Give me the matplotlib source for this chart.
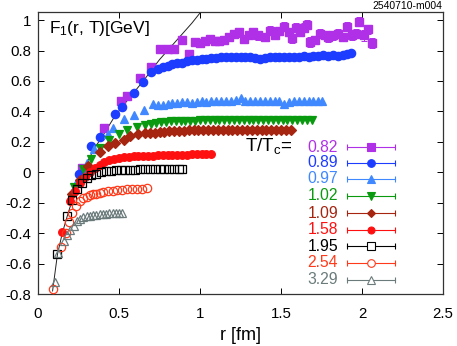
import numpy as np
import matplotlib
matplotlib.use("Agg")
import matplotlib.pyplot as plt

plt.rcParams['font.family'] = ['Liberation Sans', 'DejaVu Sans']
plt.rcParams['mathtext.default'] = 'regular'

# T/Tc = 0.82
r_082 = [0.27, 0.41, 0.51, 0.55, 0.63, 0.70, 0.75, 0.80, 0.84, 0.89, 0.93, 0.97, 1.00, 1.03, 1.06,
         1.09, 1.12, 1.15, 1.18, 1.21, 1.24, 1.27, 1.30, 1.33, 1.36, 1.40, 1.43, 1.46, 1.49, 1.52,
         1.55, 1.57, 1.59, 1.62, 1.64, 1.66, 1.68, 1.71, 1.74, 1.77, 1.79, 1.82, 1.85, 1.88, 1.91,
         1.94, 1.96, 1.98, 2.01, 2.04, 2.06]
f_082 = [0.03, 0.29, 0.47, 0.50, 0.62, 0.69, 0.81, 0.81, 0.81, 0.87, 0.78, 0.855, 0.85, 0.86, 0.875,
         0.86, 0.86, 0.87, 0.89, 0.91, 0.92, 0.875, 0.90, 0.92, 0.90, 0.89, 0.93, 0.90, 0.93, 0.955,
         0.92, 0.88, 0.95, 0.92, 0.95, 0.97, 0.855, 0.87, 0.91, 0.90, 0.89, 0.90, 0.91, 0.89, 0.955,
         0.90, 0.91, 0.99, 0.90, 0.94, 0.85]
e_082 = [0.005, 0.005, 0.005, 0.005, 0.005, 0.005, 0.01, 0.01, 0.01, 0.01, 0.01, 0.01, 0.01, 0.015, 0.015,
         0.02, 0.015, 0.02, 0.02, 0.02, 0.03, 0.02, 0.02, 0.025, 0.03, 0.02, 0.03, 0.02, 0.025, 0.03,
         0.02, 0.03, 0.03, 0.025, 0.03, 0.03, 0.035, 0.02, 0.03, 0.025, 0.035, 0.03, 0.03, 0.025, 0.03,
         0.03, 0.03, 0.03, 0.035, 0.03, 0.035]

# T/Tc = 0.89
r_089 = [0.25, 0.33, 0.38, 0.475, 0.52, 0.59, 0.65, 0.70,
         0.74, 0.77, 0.80, 0.83, 0.86, 0.89, 0.92, 0.95, 0.98, 1.01, 1.04, 1.07, 1.10, 1.13, 1.16,
         1.19, 1.22, 1.25, 1.28, 1.31, 1.34, 1.37, 1.40, 1.43, 1.46, 1.49, 1.52, 1.55, 1.58, 1.61,
         1.64, 1.67, 1.70, 1.73, 1.76, 1.79, 1.82, 1.85, 1.88, 1.91, 1.93]
f_089 = [-0.01, 0.17, 0.23, 0.38, 0.43, 0.52, 0.59, 0.66,
         0.68, 0.69, 0.70, 0.71, 0.72, 0.72, 0.73, 0.735, 0.74, 0.745, 0.745, 0.75, 0.75, 0.755, 0.755,
         0.76, 0.76, 0.755, 0.76, 0.755, 0.75, 0.745, 0.75, 0.755, 0.76, 0.755, 0.76, 0.755, 0.76, 0.76,
         0.765, 0.76, 0.765, 0.765, 0.77, 0.765, 0.77, 0.765, 0.77, 0.775, 0.785]

# T/Tc = 0.97
r_097 = [0.235, 0.30, 0.345, 0.43, 0.46, 0.53, 0.59, 0.655, 0.71,
         0.74, 0.77, 0.80, 0.83, 0.86, 0.89, 0.92, 0.95, 0.98, 1.01, 1.04, 1.07, 1.10, 1.13, 1.16,
         1.19, 1.22, 1.25, 1.28, 1.31, 1.34, 1.37, 1.40, 1.43, 1.46, 1.49, 1.52, 1.55, 1.58, 1.61,
         1.64, 1.67, 1.70, 1.73, 1.75]
f_097 = [-0.07, 0.06, 0.15, 0.25, 0.29, 0.35, 0.375, 0.41, 0.45,
         0.44, 0.445, 0.45, 0.455, 0.455, 0.46, 0.46, 0.455, 0.46, 0.465, 0.46, 0.465, 0.465, 0.47, 0.465,
         0.47, 0.475, 0.49, 0.47, 0.465, 0.47, 0.465, 0.47, 0.47, 0.465, 0.465, 0.45, 0.46, 0.465, 0.47,
         0.465, 0.47, 0.465, 0.47, 0.47]

# T/Tc = 1.02
r_102 = [0.22, 0.28, 0.33, 0.38, 0.44, 0.50, 0.55, 0.61, 0.66,
         0.70, 0.73, 0.76, 0.79, 0.82, 0.85, 0.88, 0.91, 0.94, 0.97, 1.00, 1.03, 1.06, 1.09, 1.12,
         1.15, 1.18, 1.21, 1.24, 1.27, 1.30, 1.33, 1.36, 1.39, 1.42, 1.45, 1.48, 1.51, 1.54, 1.57,
         1.60, 1.63, 1.66, 1.69]
f_102 = [-0.10, 0.02, 0.09, 0.16, 0.21, 0.25, 0.28, 0.30, 0.31,
         0.32, 0.325, 0.33, 0.33, 0.335, 0.335, 0.34, 0.34, 0.34, 0.34, 0.345, 0.345, 0.345, 0.345, 0.345,
         0.345, 0.345, 0.345, 0.345, 0.345, 0.345, 0.345, 0.345, 0.345, 0.345, 0.345, 0.345, 0.345, 0.345, 0.345,
         0.345, 0.345, 0.345, 0.345]

# T/Tc = 1.09
r_109 = [0.21, 0.26, 0.31, 0.38, 0.43, 0.475, 0.53, 0.57, 0.62,
         0.66, 0.69, 0.72, 0.75, 0.78, 0.81, 0.84, 0.87, 0.90, 0.93, 0.96, 0.99, 1.02, 1.05, 1.08,
         1.11, 1.14, 1.17, 1.20, 1.23, 1.26, 1.29, 1.32, 1.35, 1.38, 1.41, 1.44, 1.47, 1.50, 1.53, 1.56]
f_109 = [-0.14, -0.05, 0.04, 0.13, 0.17, 0.19, 0.21, 0.24, 0.25,
         0.255, 0.26, 0.26, 0.265, 0.265, 0.27, 0.27, 0.27, 0.27, 0.275, 0.275, 0.275, 0.275, 0.275, 0.275,
         0.275, 0.275, 0.275, 0.275, 0.275, 0.275, 0.275, 0.275, 0.275, 0.275, 0.275, 0.275, 0.275, 0.275, 0.275, 0.275]

# T/Tc = 1.58
r_158 = [0.15, 0.20, 0.23, 0.26, 0.29, 0.32, 0.35, 0.38, 0.41, 0.44, 0.47, 0.50,
         0.53, 0.56, 0.59, 0.62, 0.65, 0.68, 0.71, 0.74, 0.77, 0.80, 0.83, 0.86, 0.89, 0.92,
         0.95, 0.98, 1.01, 1.04, 1.07]
f_158 = [-0.39, -0.19, -0.12, -0.07, -0.03, 0.0, 0.03, 0.05, 0.065, 0.08, 0.09, 0.095,
         0.10, 0.10, 0.105, 0.105, 0.11, 0.11, 0.11, 0.115, 0.115, 0.115, 0.115, 0.115, 0.115, 0.115,
         0.12, 0.12, 0.12, 0.12, 0.12]

# T/Tc = 1.95
r_195 = [0.12, 0.18, 0.21, 0.24, 0.27, 0.30, 0.33, 0.36, 0.39, 0.42, 0.45, 0.48,
         0.51, 0.54, 0.57, 0.60, 0.63, 0.66, 0.69, 0.72, 0.75, 0.78, 0.81, 0.84, 0.87, 0.89]
f_195 = [-0.54, -0.29, -0.18, -0.11, -0.07, -0.04, -0.02, -0.01, 0.0, 0.005, 0.01, 0.012,
         0.015, 0.015, 0.017, 0.018, 0.02, 0.02, 0.02, 0.02, 0.02, 0.02, 0.02, 0.02, 0.02, 0.02]

# T/Tc = 2.54
r_254 = [0.09, 0.14, 0.17, 0.19, 0.21, 0.235, 0.26, 0.28, 0.30, 0.32, 0.34, 0.36, 0.38, 0.40,
         0.43, 0.46, 0.49, 0.52, 0.55, 0.58, 0.61, 0.64, 0.67]
f_254 = [-0.77, -0.49, -0.40, -0.33, -0.27, -0.22, -0.19, -0.17, -0.16, -0.15, -0.145, -0.14, -0.135, -0.13,
         -0.125, -0.12, -0.118, -0.115, -0.113, -0.11, -0.11, -0.108, -0.105]

# T/Tc = 3.29
r_329 = [0.105, 0.125, 0.16, 0.18, 0.20, 0.22, 0.24, 0.26, 0.28, 0.30, 0.32, 0.34, 0.36, 0.38,
         0.40, 0.42, 0.44, 0.46, 0.48, 0.50, 0.52]
f_329 = [-0.72, -0.53, -0.45, -0.41, -0.38, -0.35, -0.32, -0.305, -0.295, -0.29, -0.285, -0.28, -0.278, -0.275,
         -0.273, -0.272, -0.27, -0.27, -0.27, -0.27, -0.27]

# T=0 potential (thin black line)
r_pot = [0.09, 0.12, 0.15, 0.18, 0.215, 0.25, 0.30, 0.35, 0.40, 0.475, 0.55, 0.65, 0.75, 0.85, 0.95, 1.01]
v_pot = [-0.78, -0.54, -0.40, -0.29, -0.17, -0.06, 0.06, 0.16, 0.24, 0.37, 0.47, 0.60, 0.74, 0.86, 0.98, 1.06]

labels = ['0.82', '0.89', '0.97', '1.02', '1.09', '1.58', '1.95', '2.54', '3.29']
colors = ['#b030e8', '#1c3cff', '#3f88ff', '#0a9a10', '#a52510', '#ff1010', '#000000', '#ff3a1a', '#6b7b7b']
markers = ['s', 'o', '^', 'v', 'D', 'o', 's', 'o', '^']
filled = [True, True, True, True, True, True, False, False, False]
msizes = [6.0, 6.0, 6.0, 6.0, 4.8, 5.5, 6.0, 6.0, 6.0]

xs = [r_082, r_089, r_097, r_102, r_109, r_158, r_195, r_254, r_329]
ys = [f_082, f_089, f_097, f_102, f_109, f_158, f_195, f_254, f_329]

fig = plt.figure(figsize=(4.57, 3.46), dpi=100)
ax = fig.add_axes([38 / 457, 1 - 294 / 346, 405 / 457, 282 / 346])

ax.plot(r_pot, v_pot, color='#222222', lw=0.7, zorder=1)

for i in range(len(labels)):
    mfc = colors[i] if filled[i] else 'none'
    if i == 0:
        ax.errorbar(xs[i], ys[i], yerr=e_082, fmt=markers[i], color=colors[i], ms=msizes[i],
                    mfc=mfc, mec=colors[i], elinewidth=0.7, capsize=2.0, capthick=0.7, zorder=2)
    else:
        ax.plot(xs[i], ys[i], markers[i], color=colors[i], ms=msizes[i], mfc=mfc,
                mec=colors[i], mew=0.9, zorder=2 + i)

# legend, drawn by hand in gnuplot style
row_y = [0.521, 0.465, 0.408, 0.348, 0.287, 0.227, 0.170, 0.110, 0.050]
for i in range(len(labels)):
    y = row_y[i]
    ax.text(0.741, y, labels[i], color=colors[i], fontsize=11.3, ha='right', va='center',
            transform=ax.transAxes)
    ax.plot([0.763, 0.881], [y, y], color=colors[i], lw=0.8, transform=ax.transAxes, zorder=5)
    ax.plot([0.763, 0.881], [y, y], '|', color=colors[i], ms=4, mew=0.8, transform=ax.transAxes, zorder=5)
    mfc = colors[i] if filled[i] else 'white'
    ax.plot([0.822], [y], markers[i], color=colors[i], ms=msizes[i] - 0.5, mfc=mfc, mec=colors[i],
            mew=0.8, transform=ax.transAxes, zorder=6)
ax.text(0.627, 0.525, 'T/T$_c$=', fontsize=13.5, ha='right', va='center', transform=ax.transAxes)
ax.text(0.027, 0.94, 'F$_1$(r, T)[GeV]', fontsize=12.5, ha='left', va='center', transform=ax.transAxes)

ax.set_xlim(0, 2.5)
ax.set_ylim(-0.8, 1.053)
ax.set_xticks([0, 0.5, 1, 1.5, 2, 2.5])
ax.set_xticklabels(['0', '0.5', '1', '1.5', '2', '2.5'])
yt = [-0.8, -0.6, -0.4, -0.2, 0, 0.2, 0.4, 0.6, 0.8, 1]
ax.set_yticks(yt)
ax.set_yticklabels(['-0.8', '-0.6', '-0.4', '-0.2', '0', '0.2', '0.4', '0.6', '0.8', '1'])
ax.tick_params(direction='in', length=4, width=0.7, labelsize=10.8, top=True, right=True)
ax.tick_params(axis='x', pad=9)
ax.tick_params(axis='y', pad=5)
for s in ax.spines.values():
    s.set_linewidth(0.9)
    s.set_color('#333333')
ax.set_xlabel('r [fm]', fontsize=13, labelpad=5)

fig.text(0.967, 0.982, '2540710-m004', fontsize=7.5, ha='right', va='center')

fig.savefig('out.png', dpi=100)
